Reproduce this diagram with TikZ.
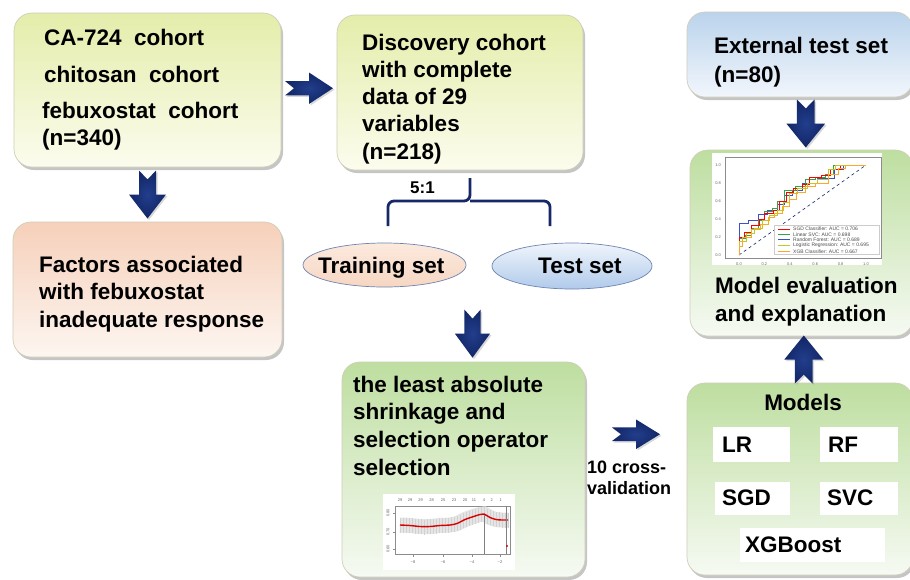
\documentclass[tikz,border=0pt]{standalone}
\usepackage{fontspec}
\setmainfont{Liberation Sans}
\usetikzlibrary{shadows,calc,shapes.geometric}

\definecolor{arrownavy}{RGB}{18,38,102}
\definecolor{arrowhi}{RGB}{34,62,140}
\definecolor{bracenavy}{RGB}{22,40,104}
\definecolor{yTop}{RGB}{228,237,170}
\definecolor{yBot}{RGB}{252,252,238}
\definecolor{pTop}{RGB}{246,208,186}
\definecolor{pBot}{RGB}{253,246,241}
\definecolor{bTop}{RGB}{186,211,236}
\definecolor{bBot}{RGB}{242,246,252}
\definecolor{gTop}{RGB}{190,222,160}
\definecolor{gBot}{RGB}{246,250,243}
\definecolor{edgecol}{RGB}{208,206,184}
\definecolor{ellipseedge}{RGB}{110,132,178}
\definecolor{rocgreen}{RGB}{60,160,70}
\definecolor{rocblue}{RGB}{60,80,200}
\definecolor{rocyellow}{RGB}{190,200,40}
\definecolor{rocorange}{RGB}{250,170,40}

\tikzset{
  box/.style={rectangle, rounded corners=18pt, draw=edgecol, line width=0.7pt,
    inner sep=0pt,
    drop shadow={opacity=0.45, shadow xshift=2pt, shadow yshift=-3pt}},
  yellowbox/.style={box, top color=yTop, bottom color=yBot},
  peachbox/.style={box, top color=pTop, bottom color=pBot},
  bluebox/.style={box, top color=bTop, bottom color=bBot},
  greenbox/.style={box, top color=gTop, bottom color=gBot},
  lbl/.style={font=\fontsize{22.5}{27.5}\selectfont\bfseries, anchor=base west, inner sep=0pt},
  smalllbl/.style={font=\fontsize{18}{21}\selectfont\bfseries, anchor=base west, inner sep=0pt},
  modelbox/.style={rectangle, fill=white, inner sep=0pt},
  tinytxt/.style={font=\fontsize{4}{4.5}\selectfont, text=black!60, inner sep=0pt},
  legtxt/.style={font=\fontsize{5}{5.5}\selectfont, text=black!70, inner sep=0pt, anchor=west},
  arrowfill/.style={inner color=arrowhi, outer color=arrownavy,
    drop shadow={opacity=0.3, shadow xshift=1.5pt, shadow yshift=-1.5pt}},
  pics/blockarrow/.style={code={
    \path[arrowfill] (-24,-8.5) -- (0,-8.5) -- (0,-18.5) -- (24,0) -- (0,18.5)
      -- (0,8.5) -- (-24,8.5) -- (-15,0) -- cycle;
  }},
}

\begin{document}
\begin{tikzpicture}[x=1pt,y=-1pt]
\useasboundingbox (0,0) rectangle (910,579);
\fill[white] (0,0) rectangle (910,579);

% ---------- boxes ----------
\node[yellowbox, minimum width=267, minimum height=154] (cohorts) at (147.5,90) {};
\node[yellowbox, minimum width=246, minimum height=155] (disc) at (460,92.5) {};
\node[peachbox, minimum width=269, minimum height=135] (factors) at (147.5,289.5) {};
\node[bluebox, minimum width=226, minimum height=85] (ext) at (800,54.5) {};
\node[greenbox, minimum width=223, minimum height=186] (eval) at (801.5,243) {};
\node[greenbox, minimum width=243, minimum height=215] (lasso) at (463.5,469.5) {};
\node[greenbox, minimum width=226, minimum height=192] (models) at (800,479) {};

% ---------- box texts ----------
\node[lbl] (c1) at (44,45) {CA-724\ \ cohort};
\node[lbl] (c2) at (44,82) {chitosan\ \ cohort};
\node[lbl] (c3) at (42,118) {febuxostat\ \ cohort};
\node[lbl] (c4) at (42,145) {(n=340)};

\foreach \t [count=\i] in {Discovery cohort, with complete, data of 29, variables, (n=218)}
  \node[lbl] (d\i) at (362,{50+27.3*(\i-1)}) {\t};

\foreach \t [count=\i] in {Factors associated, with febuxostat, inadequate response}
  \node[lbl] (f\i) at (39,{272+27.5*(\i-1)}) {\t};

\node[lbl] (e1) at (714,53) {External test set};
\node[lbl] (e2) at (714,82) {(n=80)};

\node[lbl] (v1) at (715,293) {Model evaluation};
\node[lbl] (v2) at (715,321) {and explanation};

\foreach \t [count=\i] in {the least absolute, shrinkage and, selection operator, selection}
  \node[lbl] (l\i) at (353,{392+27.7*(\i-1)}) {\t};

\node[smalllbl] (cv1) at (587,473) {10 cross-};
\node[smalllbl] (cv2) at (587,494) {validation};

% ---------- models ----------
\node[lbl, anchor=base] (mtitle) at (803,410) {Models};
\node[modelbox, minimum width=77, minimum height=35] (lr) at (751.5,444.5) {};
\node[modelbox, minimum width=78, minimum height=35] (rf) at (859,444.5) {};
\node[modelbox, minimum width=75, minimum height=33] (sgd) at (752.5,498.5) {};
\node[modelbox, minimum width=78, minimum height=33] (svc) at (859,498.5) {};
\node[modelbox, minimum width=145, minimum height=34] (xgb) at (812.5,545) {};
\node[lbl] (lrt) at (722,452) {LR};
\node[lbl] (rft) at (828,452) {RF};
\node[lbl] (sgdt) at (722,505) {SGD};
\node[lbl] (svct) at (827,505) {SVC};
\node[lbl] (xgbt) at (745,552) {XGBoost};

% ---------- split into training / test ----------
\coordinate (bstem) at (470,178);
\coordinate (bmid) at (470,201);
\coordinate (bleft) at (388,226);
\coordinate (bright) at (550,226);
\draw[bracenavy, line width=2.8pt, rounded corners=6pt, line join=round]
  (bleft) -- (bleft |- bmid) -- (bmid) -- (bstem)
  (bmid) -- (bright |- bmid) -- (bright);
\node[font=\fontsize{17}{20}\selectfont\bfseries, anchor=base west, inner sep=0pt] (ratio) at (410,193) {5:1};

\node[ellipse, draw=ellipseedge, line width=0.7pt, top color={rgb,255:red,252;green,234;blue,222},
  bottom color={rgb,255:red,246;green,214;blue,194}, minimum width=163, minimum height=44, inner sep=0pt]
  (train) at (384.5,265) {};
\node[ellipse, draw=ellipseedge, line width=0.7pt, top color={rgb,255:red,240;green,245;blue,252},
  bottom color={rgb,255:red,176;green,202;blue,234}, minimum width=160, minimum height=46, inner sep=0pt]
  (test) at (572,266) {};
\node[lbl] (traint) at (318,273) {Training set};
\node[lbl] (testt) at (538,273) {Test set};

% ---------- arrows ----------
\pic[yscale=0.85] at ($(cohorts.east)!0.5!(disc.west)+(0,-3)$) {blockarrow};
\pic[rotate=-90] at ($(cohorts.south)!0.5!(factors.south |- factors.north)$) {blockarrow};
\pic[rotate=-90, yscale=0.95] at ($(lasso.north)+(9,-28)$) {blockarrow};
\pic[yscale=0.8] at ($(lasso.east)!0.5!(models.west)+(0,-40)$) {blockarrow};
\pic[rotate=90, yscale=1.05] at ($(models.north)!0.5!(eval.south)+(3,0)$) {blockarrow};
\pic[rotate=-90, yscale=1.05] at ($(ext.south)!0.5!(eval.north)+(5,0)$) {blockarrow};

% ---------- ROC curves plot ----------
\node[fill=white, minimum width=170, minimum height=112, inner sep=0pt] (rocimg) at (797,209) {};
\draw[black!45, line width=0.4pt] (725,157) rectangle (881,258);
\begin{scope}[shift={(739,255)}, x=127pt, y=90pt]
  \foreach \v in {0.0,0.2,0.4,0.6,0.8,1.0} {
    \node[tinytxt] at (-0.165,\v) {\v};
    \node[tinytxt] at (\v,-0.1) {\v};
  }
  \draw[dashed, arrownavy, line width=0.6pt] (0,0) -- (1,1);
  \draw[rocblue, line width=0.7pt] plot coordinates {(0,0)(0,0.35)(0.07,0.35)(0.07,0.38)(0.15,0.38)(0.15,0.45)(0.22,0.45)(0.22,0.5)(0.3,0.5)(0.3,0.56)(0.36,0.56)(0.36,0.66)(0.42,0.66)(0.42,0.72)(0.5,0.72)(0.5,0.8)(0.62,0.8)(0.62,0.85)(0.75,0.85)(0.75,0.95)(0.82,0.95)(0.82,1)(1,1)};
  \draw[rocgreen, line width=0.7pt] plot coordinates {(0,0)(0,0.18)(0.05,0.18)(0.05,0.22)(0.1,0.22)(0.1,0.3)(0.15,0.3)(0.15,0.38)(0.2,0.38)(0.2,0.48)(0.26,0.48)(0.26,0.52)(0.3,0.52)(0.3,0.6)(0.36,0.6)(0.36,0.72)(0.44,0.72)(0.44,0.76)(0.52,0.76)(0.52,0.84)(0.6,0.84)(0.6,0.86)(0.68,0.86)(0.68,0.9)(0.74,0.9)(0.74,1)(1,1)};
  \draw[red, line width=0.7pt] plot coordinates {(0,0)(0,0.2)(0.04,0.2)(0.04,0.25)(0.1,0.25)(0.1,0.33)(0.16,0.33)(0.16,0.4)(0.2,0.4)(0.2,0.46)(0.27,0.46)(0.27,0.5)(0.32,0.5)(0.32,0.6)(0.37,0.6)(0.37,0.7)(0.43,0.7)(0.43,0.74)(0.5,0.74)(0.5,0.78)(0.55,0.78)(0.55,0.86)(0.65,0.86)(0.65,0.88)(0.72,0.88)(0.72,0.95)(0.8,0.95)(0.8,1)(1,1)};
  \draw[rocyellow, line width=0.7pt] plot coordinates {(0,0)(0,0.15)(0.06,0.15)(0.06,0.24)(0.12,0.24)(0.12,0.3)(0.18,0.3)(0.18,0.38)(0.24,0.38)(0.24,0.44)(0.3,0.44)(0.3,0.5)(0.35,0.5)(0.35,0.58)(0.4,0.58)(0.4,0.68)(0.46,0.68)(0.46,0.74)(0.54,0.74)(0.54,0.8)(0.62,0.8)(0.62,0.84)(0.7,0.84)(0.7,0.95)(0.76,0.95)(0.76,1)(1,1)};
  \draw[rocorange, line width=0.7pt] plot coordinates {(0,0)(0,0.1)(0.03,0.1)(0.03,0.2)(0.1,0.2)(0.1,0.28)(0.17,0.28)(0.17,0.34)(0.23,0.34)(0.23,0.42)(0.28,0.42)(0.28,0.46)(0.34,0.46)(0.34,0.54)(0.4,0.54)(0.4,0.62)(0.45,0.62)(0.45,0.7)(0.52,0.7)(0.52,0.76)(0.6,0.76)(0.6,0.8)(0.7,0.8)(0.7,0.9)(0.78,0.9)(0.78,0.96)(0.84,0.96)(0.84,1)(1,1)};
  % legend
  \fill[white, opacity=0.9] (0.28,0.01) rectangle (1.1,0.33);
  \draw[black!20, line width=0.3pt] (0.28,0.01) rectangle (1.1,0.33);
  \foreach \c/\y/\t in {red/0.29/{SGD Classifier: AUC = 0.706},
                        rocgreen/0.23/{Linear SVC: AUC = 0.698},
                        rocblue/0.17/{Random Forest: AUC = 0.689},
                        rocyellow/0.105/{Logistic Regression: AUC = 0.695},
                        rocorange/0.04/{XGB Classifier: AUC = 0.667}} {
    \draw[color=\c, line width=0.8pt] (0.31,\y) -- (0.4,\y);
    \node[legtxt] at (0.425,\y) {\t};
  }
\end{scope}

% ---------- cross-validation curve plot ----------
\node[fill=white, minimum width=132, minimum height=76, inner sep=0pt] (cvimg) at (449,532) {};
\draw[black!45, line width=0.4pt] (395,506) rectangle (510,554);
\foreach \x/\n in {400/29,410/29,420.7/29,431.7/28,443/25,454/23,465/20,474/11,484/4,491.7/2,500.7/1}
  \node[tinytxt] at (\x,500) {\n};
\foreach \y/\n in {513/0.80,532/0.70,549/0.60} {
  \node[tinytxt, rotate=90] at (388,\y) {\n};
  \draw[black!45, line width=0.3pt] (392.5,\y) -- (395,\y);
}
\foreach \x/\n in {413/−8,443/−6,472/−4,500/−2} {
  \node[tinytxt] at (\x,562) {\n};
  \draw[black!45, line width=0.3pt] (\x,554) -- (\x,556.5);
}
\draw[black!10, line width=15pt] plot[smooth] coordinates {(400,525)(410,525.5)(420,526.5)(430,526.5)(440,525.5)(450,525)(457,523.5)(465,519.5)(472,517)(480,514.5)(484,514)(490,517.5)(496,519.5)(502,520)(508,520)};
\foreach \x/\y in {400/525,403/525,406/525,409/525.4,412/525.8,415/526,418/526.3,421/526.6,424/527,427/526.8,430/526.5,433/526.2,436/526,439/525.6,442/525.3,445/525,448/525,451/524.8,454/524.2,457/523.5,460/522,463/520.3,466/519,469/518,472/517,475/516,478/515,481/514.3,484/514,487/516,490/517.5,493/518.8,496/519.5,499/519.8,502/520,505/520,508/520} {
  \draw[black!18, line width=0.2pt] (\x,{\y-7.5}) -- (\x,{\y+7.5});
}
\draw[red!85!black, line width=1.4pt] plot[smooth] coordinates {(400,525)(410,525.5)(420,526.5)(430,526.5)(440,525.5)(450,525)(457,523.5)(465,519.5)(472,517)(480,514.5)(484,514)(490,517.5)(496,519.5)(502,520)(508,520)};
\draw[black!50, line width=0.3pt] (484,515) -- (484,554);
\draw[black!50, line width=0.3pt] (506,506) -- (506,554);
\fill[red!85!black] (507,546) circle (1.1pt);
\end{tikzpicture}
\end{document}
